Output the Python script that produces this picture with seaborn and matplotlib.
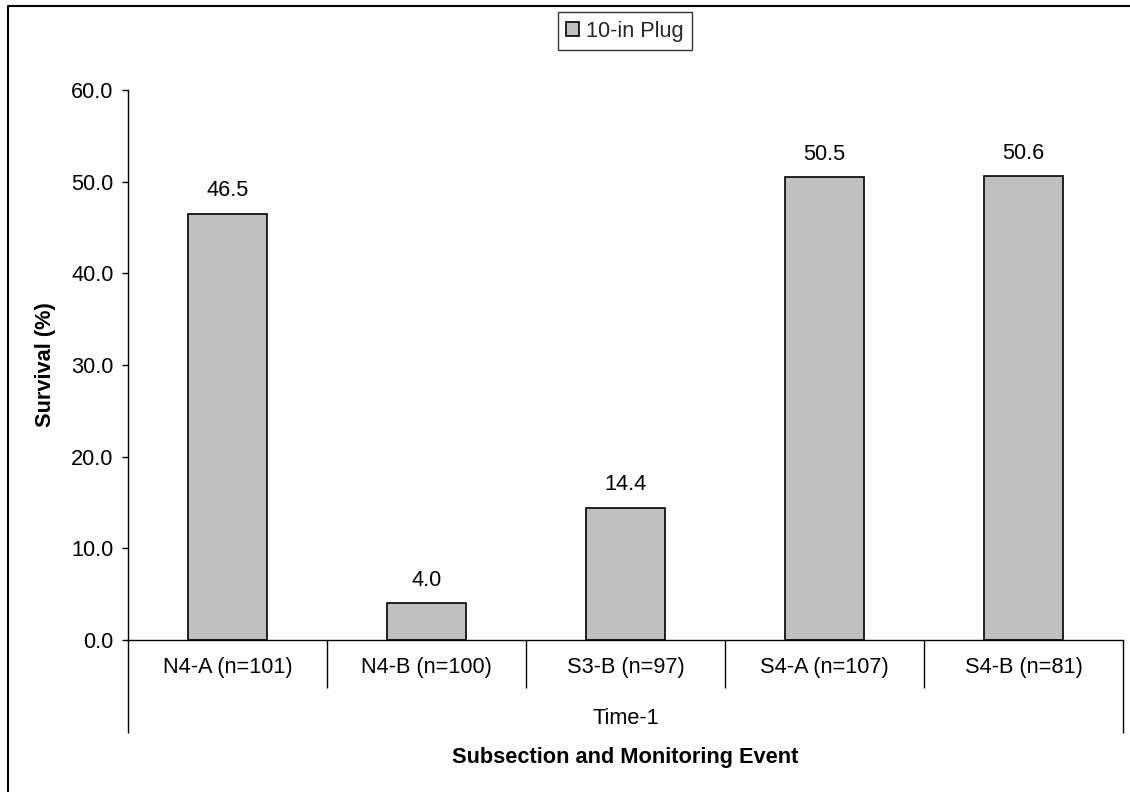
import numpy as np
import pandas as pd
import matplotlib
matplotlib.use("Agg")
import matplotlib.pyplot as plt
from matplotlib.lines import Line2D
import seaborn as sns

# ---- data ----
categories = ["N4-A (n=101)", "N4-B (n=100)", "S3-B (n=97)", "S4-A (n=107)", "S4-B (n=81)"]
survival = [46.5, 4.0, 14.4, 50.5, 50.6]
series_name = "10-in Plug"
group_label = "Time-1"
yticks = [0, 10, 20, 30, 40, 50, 60]

sns.set_theme(style="white")
plt.rcParams["font.family"] = ["Liberation Sans", "DejaVu Sans"]
FS = 15.7

df = pd.DataFrame({"Subsection": categories, "Survival": survival,
                   "Series": [series_name] * len(categories)})

fig = plt.figure(figsize=(11.3, 7.92), dpi=100)
ax = fig.add_axes([128 / 1130, 1 - 640 / 792, (1123 - 128) / 1130, (640 - 90) / 792])

sns.barplot(data=df, x="Subsection", y="Survival", hue="Series",
            palette=["#C0C0C0"], edgecolor="black", linewidth=1.2,
            width=0.4, ax=ax, legend=True, saturation=1)

for c in ax.containers:
    ax.bar_label(c, fmt="%.1f", padding=9, fontsize=FS, color="black")

n = len(categories)
ax.set_xlim(-0.5, n - 0.5)
ax.set_ylim(yticks[0], yticks[-1])
ax.set_yticks(yticks)
ax.set_yticklabels([f"{v:.1f}" for v in yticks], fontsize=FS, color="black")
ax.tick_params(axis="y", direction="out", length=4.5, width=1, color="black", pad=6, left=True)

# category boundaries as major ticks, labels on minor ticks
ax.set_xticks(np.arange(n + 1) - 0.5)
ax.set_xticklabels([""] * (n + 1))
ax.set_xticks(np.arange(n), minor=True)
ax.set_xticklabels(categories, minor=True, fontsize=FS, color="black")
ax.tick_params(axis="x", which="major", direction="out", length=34.5, width=1, color="black", bottom=True)
ax.tick_params(axis="x", which="minor", length=0, pad=12)
majors = ax.xaxis.get_major_ticks()
for t in (majors[0], majors[-1]):
    t.tick1line.set_markersize(67)

for s in ["top", "right"]:
    ax.spines[s].set_visible(False)
for s in ["left", "bottom"]:
    ax.spines[s].set_color("black")
    ax.spines[s].set_linewidth(1)

ax.set_xlabel("")
ax.set_ylabel("Survival (%)", fontsize=FS, fontweight="bold", color="black", labelpad=11)

fig.text((128 + 1123) / 2 / 1130, 1 - 718 / 792, group_label, ha="center", va="center",
         fontsize=FS, color="black")
fig.text((128 + 1123) / 2 / 1130, 1 - 758 / 792, "Subsection and Monitoring Event",
         ha="center", va="center", fontsize=FS, fontweight="bold", color="black")

# legend
leg = ax.get_legend()
if leg is not None:
    leg.remove()
handles, labels = ax.get_legend_handles_labels()
lg = fig.legend(handles, labels, loc="center", bbox_to_anchor=(625 / 1130, 1 - 31 / 792),
                frameon=True, fancybox=False, fontsize=FS, handlelength=0.6, handleheight=0.6,
                handletextpad=0.3, borderpad=0.4, borderaxespad=0)
lg.get_frame().set_edgecolor("black")
lg.get_frame().set_linewidth(1)

# chart-area border (left and top visible)
fig.add_artist(Line2D([8 / 1130, 8 / 1130, 1.0], [0.0, 1 - 6 / 792, 1 - 6 / 792],
                      transform=fig.transFigure, color="black", linewidth=1.5))

fig.savefig("out.png", dpi=100, facecolor="white")
